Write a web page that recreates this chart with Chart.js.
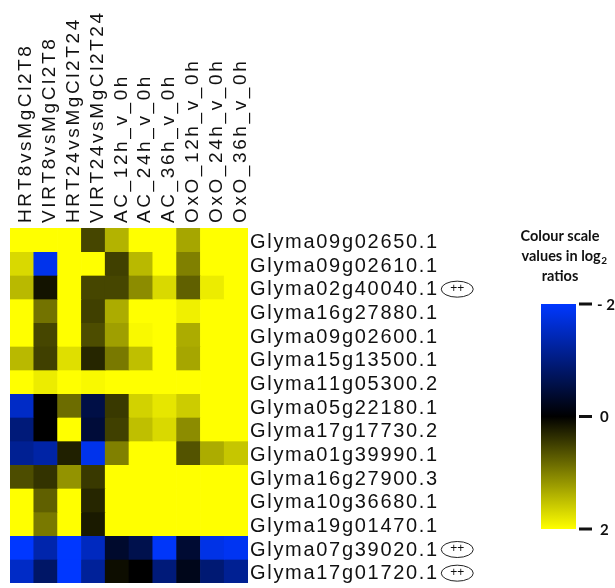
<!DOCTYPE html>
<html>
<head>
<meta charset="utf-8">
<script src="https://cdn.jsdelivr.net/npm/chart.js@4/dist/chart.umd.min.js"></script>
<style>
  html, body { margin: 0; padding: 0; background: #fff; }
  #wrap { width: 615px; height: 588px; position: relative; }
</style>
</head>
<body>
<div id="wrap"><canvas id="heat" width="615" height="588"></canvas></div>
<script>
// Contrasts (columns)
const conditions = [
  'HRT8vsMgCl2T8', 'VIRT8vsMgCl2T8', 'HRT24vsMgCl2T24', 'VIRT24vsMgCl2T24',
  'AC_12h_v_0h', 'AC_24h_v_0h', 'AC_36h_v_0h',
  'OxO_12h_v_0h', 'OxO_24h_v_0h', 'OxO_36h_v_0h'
];

// Gene models (rows)
const genes = [
  'Glyma09g02650.1', 'Glyma09g02610.1', 'Glyma02g40040.1', 'Glyma16g27880.1',
  'Glyma09g02600.1', 'Glyma15g13500.1', 'Glyma11g05300.2', 'Glyma05g22180.1',
  'Glyma17g17730.2', 'Glyma01g39990.1', 'Glyma16g27900.3', 'Glyma10g36680.1',
  'Glyma19g01470.1', 'Glyma07g39020.1', 'Glyma17g01720.1'
];

// Genes marked with the (++) badge
const flagged = ['Glyma02g40040.1', 'Glyma07g39020.1', 'Glyma17g01720.1'];

// log2 ratios, one row per gene, one value per contrast
const row01 = [2.0, 2.0, 2.0, 0.55, 1.4, 2.0, 2.0, 1.3, 2.0, 2.0];
const row02 = [1.7, -1.85, 2.0, 2.0, 0.5, 1.45, 2.0, 1.0, 2.0, 2.0];
const row03 = [1.45, 0.15, 2.0, 0.55, 0.55, 1.1, 1.7, 0.75, 1.85, 2.0];
const row04 = [2.0, 0.9, 2.0, 0.5, 1.35, 2.0, 2.0, 1.88, 2.0, 2.0];
const row05 = [2.0, 0.55, 2.0, 0.6, 1.25, 1.95, 2.0, 1.35, 2.0, 2.0];
const row06 = [1.45, 0.5, 1.75, 0.3, 0.95, 1.5, 2.0, 1.3, 2.0, 2.0];
const row07 = [2.0, 1.85, 2.0, 1.95, 2.0, 2.0, 2.0, 2.0, 2.0, 2.0];
const row08 = [-1.55, 0.0, 0.85, -0.55, 0.45, 1.65, 1.8, 1.6, 2.0, 2.0];
const row09 = [-0.95, 0.0, 2.0, -0.45, 0.5, 1.5, 1.7, 1.1, 2.0, 2.0];
const row10 = [-1.15, -1.3, 0.25, -1.85, 1.0, 2.0, 2.0, 0.65, 1.35, 1.55];
const row11 = [0.6, 0.4, 1.15, 0.45, 2.0, 2.0, 2.0, 2.0, 2.0, 2.0];
const row12 = [2.0, 0.75, 2.0, 0.3, 2.0, 2.0, 2.0, 2.0, 2.0, 2.0];
const row13 = [2.0, 0.95, 2.0, 0.2, 2.0, 2.0, 2.0, 2.0, 2.0, 2.0];
const row14 = [-2.0, -1.35, -2.0, -1.5, -0.35, -0.6, -1.95, -0.4, -1.8, -1.9];
const row15 = [-1.55, -0.8, -2.0, -1.2, 0.1, 0.0, -0.95, -0.2, -0.9, -1.15];
const logRatios = [row01, row02, row03, row04, row05, row06, row07, row08,
                   row09, row10, row11, row12, row13, row14, row15];

// Colour key
const keyRange = [-2, 2];
const keyTicks = [-2, 0, 2];
const keyTickLabels = ['- 2', '0', '2'];

// blue (low) -> black (0) -> yellow (high)
function colourFor(v) {
  const t = Math.max(-1, Math.min(1, v / 2));
  if (t >= 0) {
    const c = Math.round(255 * t);
    return `rgb(${c},${c},0)`;
  }
  const k = -t;
  return `rgb(0,${Math.round(55 * k)},${Math.round(255 * k)})`;
}

// draw text with extra tracking; returns x where the last glyph ends
function spacedText(ctx, text, x, y, gap) {
  let cx = x;
  for (let i = 0; i < text.length; i++) {
    const ch = text[i];
    ctx.fillText(ch, cx, y);
    cx += ctx.measureText(ch).width + (i < text.length - 1 ? gap : 0);
  }
  return cx;
}

const annotate = {
  id: 'annotate',
  afterDraw(chart) {
    const { ctx, chartArea: area, scales: { x, y } } = chart;
    ctx.save();
    ctx.fillStyle = '#111';
    ctx.textAlign = 'left';
    ctx.textBaseline = 'alphabetic';

    // column headers, reading upwards
    ctx.font = '19px "Liberation Sans", Arial, sans-serif';
    conditions.forEach((name, j) => {
      const cx = x.getPixelForValue(j);
      ctx.save();
      ctx.translate(cx + 9.5, area.top - 5);
      ctx.rotate(-Math.PI / 2);
      spacedText(ctx, name, 0, 0, 2.6);
      ctx.restore();
    });

    // row labels and badges
    ctx.font = '20px "Liberation Sans", Arial, sans-serif';
    genes.forEach((g, i) => {
      const cy = y.getPixelForValue(i + 0.5);
      const end = spacedText(ctx, g, area.right + 2, cy + 8, 1.7);
      if (flagged.includes(g)) {
        const ex = end + 20, ey = cy + 2;
        ctx.save();
        ctx.strokeStyle = '#222';
        ctx.lineWidth = 1;
        ctx.beginPath();
        ctx.ellipse(ex, ey, 16, 8, 0, 0, Math.PI * 2);
        ctx.stroke();
        ctx.font = '12px "Liberation Sans", Arial, sans-serif';
        ctx.textAlign = 'center';
        ctx.textBaseline = 'middle';
        ctx.fillText('++', ex, ey - 0.5);
        ctx.restore();
      }
    });

    // colour key
    const kx = 541, kw = 35, ktop = 304, kbot = 529;
    const toY = v => ktop + (v - keyRange[0]) / (keyRange[1] - keyRange[0]) * (kbot - ktop);
    const grad = ctx.createLinearGradient(0, ktop, 0, kbot);
    for (let s = 0; s <= 20; s++) {
      const v = keyRange[0] + (keyRange[1] - keyRange[0]) * s / 20;
      grad.addColorStop(s / 20, colourFor(v));
    }
    ctx.fillStyle = grad;
    ctx.fillRect(kx, ktop, kw, kbot - ktop);

    ctx.fillStyle = '#111';
    ctx.font = 'bold 15px Lato, "Open Sans", sans-serif';
    ctx.textAlign = 'left';
    ctx.textBaseline = 'middle';
    keyTicks.forEach((v, i) => {
      const ty = toY(v);
      ctx.fillRect(kx + kw + 3, ty - 1.5, 13, 3);
      ctx.fillText(keyTickLabels[i], i === 0 ? 597 : 600, ty + 1);
    });

    // key title
    const titleFont = 'bold 14.5px Lato, "Open Sans", sans-serif';
    ctx.font = titleFont;
    ctx.textAlign = 'center';
    ctx.textBaseline = 'middle';
    ctx.fillText('Colour scale', 560, 236);
    const main = 'values in log';
    const wMain = ctx.measureText(main).width;
    ctx.font = 'bold 10px Lato, "Open Sans", sans-serif';
    const wSub = ctx.measureText('2').width;
    const startX = 564 - (wMain + wSub) / 2;
    ctx.textAlign = 'left';
    ctx.font = titleFont;
    ctx.fillText(main, startX, 256);
    ctx.font = 'bold 10px Lato, "Open Sans", sans-serif';
    ctx.fillText('2', startX + wMain + 0.5, 261);
    ctx.font = titleFont;
    ctx.textAlign = 'center';
    ctx.fillText('ratios', 560, 276);
    ctx.restore();
  }
};

// one floating-bar dataset per gene: each bar spans that gene's row band
const datasets = genes.map((g, i) => ({
  label: g,
  data: conditions.map(() => [i, i + 1]),
  backgroundColor: logRatios[i].map(colourFor),
  borderWidth: 0,
  barPercentage: 1,
  categoryPercentage: 1,
  grouped: false
}));

new Chart(document.getElementById('heat'), {
  type: 'bar',
  data: { labels: conditions, datasets },
  options: {
    responsive: false,
    animation: false,
    layout: { padding: { left: 10, top: 228, right: 367, bottom: 5 } },
    plugins: { legend: { display: false }, tooltip: { enabled: false } },
    scales: {
      x: { type: 'category', display: false, offset: true },
      y: { type: 'linear', display: false, min: 0, max: genes.length, reverse: true }
    }
  },
  plugins: [annotate]
});
</script>
</body>
</html>
